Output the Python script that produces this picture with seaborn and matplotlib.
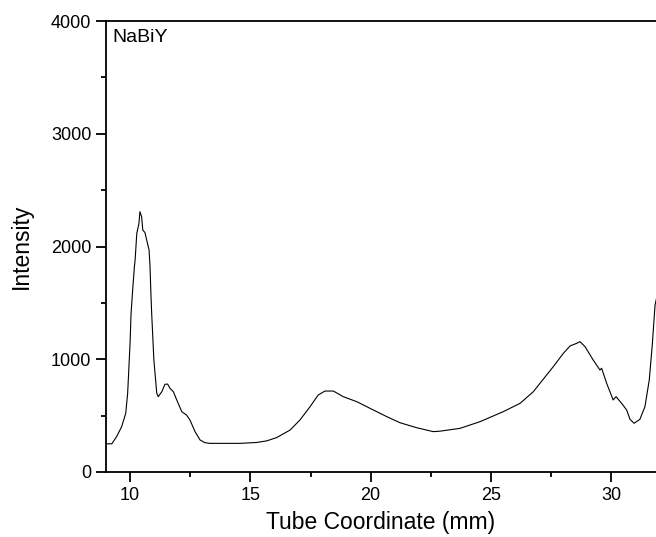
import matplotlib
matplotlib.use("Agg")
import matplotlib.pyplot as plt
import seaborn as sns
import pandas as pd
from matplotlib.ticker import MultipleLocator

sns.set_style("ticks")
plt.rcParams['font.family'] = ['Liberation Sans', 'DejaVu Sans']
plt.rcParams['text.color'] = 'black'
plt.rcParams['axes.labelcolor'] = 'black'

coord = [9.0, 9.24, 9.44, 9.65, 9.82, 9.90, 10.0, 10.04, 10.11, 10.18, 10.21, 10.28,
         10.37, 10.41, 10.48, 10.53, 10.62, 10.69, 10.79, 10.83, 10.87, 10.90, 10.99,
         11.11, 11.17, 11.32, 11.45, 11.56, 11.66, 11.80, 11.94, 12.15, 12.35, 12.49,
         12.70, 12.91, 13.11, 13.32, 13.74, 14.57, 15.26, 15.68, 16.09, 16.65, 17.06,
         17.48, 17.82, 18.10, 18.45, 18.86, 19.42, 19.97, 20.67, 21.22, 21.91, 22.60,
         22.88, 23.71, 24.54, 25.51, 26.21, 26.76, 27.59, 28.01, 28.29, 28.56, 28.70,
         28.91, 29.25, 29.53, 29.60, 29.81, 30.08, 30.20, 30.43, 30.64, 30.78, 30.95,
         31.19, 31.40, 31.58, 31.71, 31.82, 31.88]
intensity = [250, 250, 313, 402, 520, 698, 1141, 1400, 1620, 1820, 1880, 2117,
             2205, 2309, 2265, 2146, 2123, 2058, 1969, 1821, 1560, 1400, 993,
             698, 668, 712, 778, 780, 742, 712, 639, 535, 505, 461,
             358, 284, 260, 254, 254, 254, 262, 276, 305, 372, 461,
             579, 683, 718, 718, 668, 624, 565, 491, 437, 393, 358,
             362, 387, 446, 535, 609, 712, 934, 1053, 1118, 1141, 1156,
             1112, 993, 905, 920, 786, 639, 668, 609, 550, 467, 432,
             467, 579, 816, 1141, 1480, 1540]

x_ticks = [10, 15, 20, 25, 30]
y_ticks = [0, 1000, 2000, 3000, 4000]

df = pd.DataFrame({"coord": coord, "intensity": intensity})

fig = plt.figure(figsize=(6.56, 5.37), dpi=100)
ax = fig.add_axes([106/656, 65/537, 550/656, 451/537])
sns.lineplot(data=df, x="coord", y="intensity", ax=ax, color="black", linewidth=0.8)

ax.set_xlim(9.0, 31.86)
ax.set_ylim(0, 4000)
ax.set_xticks(x_ticks)
ax.set_yticks(y_ticks)
ax.xaxis.set_minor_locator(MultipleLocator(2.5))
ax.yaxis.set_minor_locator(MultipleLocator(500))
ax.tick_params(axis='both', which='major', direction='out', length=7, width=1.3,
               labelsize=13, color='black', labelcolor='black')
ax.tick_params(axis='both', which='minor', direction='out', length=3.5, width=1.3, color='black')
for s in ['left', 'bottom', 'top']:
    ax.spines[s].set_linewidth(1.3)
    ax.spines[s].set_color('black')
ax.spines['right'].set_visible(False)

ax.set_xlabel("Tube Coordinate (mm)", fontsize=16.5, labelpad=5, color='black')
ax.set_ylabel("Intensity", fontsize=16.5, labelpad=13, color='black')
ax.text(0.012, 0.982, "NaBiY", transform=ax.transAxes, ha='left', va='top',
        fontsize=14, color='black')

fig.savefig("out.png", dpi=100)
